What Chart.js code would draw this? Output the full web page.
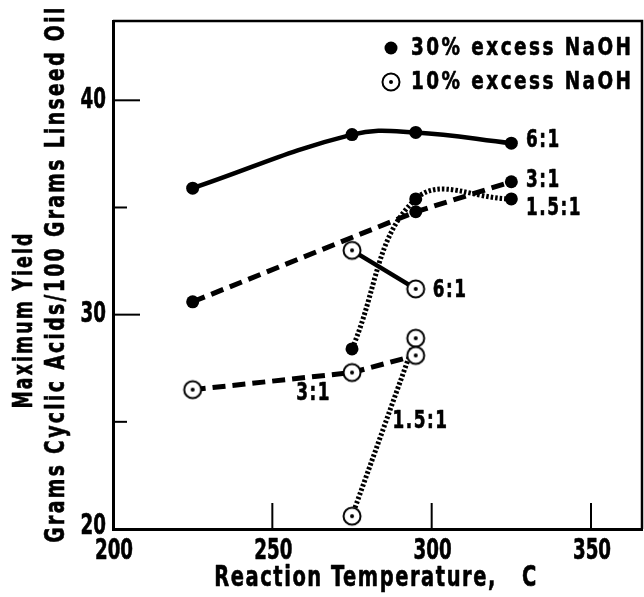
<!DOCTYPE html>
<html>
<head>
<meta charset="utf-8">
<title>Maximum yield of cyclic acids vs reaction temperature</title>
<style>
  body { margin: 0; background: #fff; }
  #wrap { width: 644px; height: 597px; position: relative; }
</style>
</head>
<body>
<script src="https://cdn.jsdelivr.net/npm/chart.js"></script>
<div id="wrap"><canvas id="myChart"></canvas></div>
<script>
// reaction temperatures, C
const temps = [225, 275, 295, 325];

// 30% excess NaOH (filled dots), grams cyclic acids / 100 g linseed oil
const naoh30_6to1 = [35.9, 38.4, 38.5, 38.0];
const naoh30_3to1 = [30.6, null, 34.8, 36.2];
const naoh30_15to1 = [null, 28.4, 35.4, 35.4];

// 10% excess NaOH (dotted circles)
const naoh10_6to1 = [null, 33.0, 31.2, null];
const naoh10_3to1 = [26.5, 27.3, 28.1, null];
const naoh10_15to1 = [null, 20.6, 28.9, null];

// axis tick labels
const xTickLabels = [200, 250, 300, 350];
const yTickLabels = [20, 30, 40];

// ratio labels written next to the curves (anchored in data units)
const ratioText = ['6:1', '3:1', '1.5:1', '6:1', '3:1', '1.5:1'];
const ratioAtX = [329.6, 329.6, 329.6, 300.3, 257.5, 287.7];
const ratioAtY = [38.1, 36.25, 34.95, 31.1, 26.3, 25.0];

const legendText = ['30% excess NaOH', '10% excess NaOH'];

const FONT = '"DejaVu Sans Condensed", "DejaVu Sans", sans-serif';

function pts(vals) {
  return temps.map((t, i) => ({ x: t, y: vals[i] })).filter(p => p.y !== null);
}

// open circle with a dot in the middle
function ringDot() {
  const c = document.createElement('canvas');
  c.width = 22; c.height = 22;
  const g = c.getContext('2d');
  g.beginPath();
  g.arc(11, 11, 8.5, 0, Math.PI * 2);
  g.fillStyle = '#fff';
  g.fill();
  g.lineWidth = 2;
  g.strokeStyle = '#000';
  g.stroke();
  g.beginPath();
  g.arc(11, 11, 2, 0, Math.PI * 2);
  g.fillStyle = '#000';
  g.fill();
  return c;
}
const ring = ringDot();

const SOLID = [], DASHED = [13, 7], DOTTED = [2.5, 2];

function series(label, vals, dash, open, tension) {
  return {
    label: label,
    data: pts(vals),
    borderColor: '#000',
    borderWidth: dash === SOLID ? 4.5 : 5,
    borderDash: dash,
    borderCapStyle: 'butt',
    tension: tension,
    pointStyle: open ? ring : 'circle',
    pointRadius: open ? 9 : 6.5,
    pointBackgroundColor: '#000',
    pointBorderWidth: 0,
    fill: false
  };
}

// heavy bold text squeezed sideways, to imitate the narrow lettering of the original
function text(ctx, str, x, y, size, opts) {
  ctx.save();
  ctx.font = 'bold ' + size + 'px ' + FONT;
  ctx.letterSpacing = (opts.spacing || 0) + 'px';
  const natural = ctx.measureText(str).width - (opts.spacing || 0);
  const sx = opts.width ? opts.width / natural : (opts.sx || 1);
  ctx.translate(x, y);
  if (opts.angle) ctx.rotate(opts.angle);
  ctx.scale(sx, 1);
  ctx.textAlign = opts.align || 'left';
  ctx.textBaseline = 'middle';
  ctx.fillStyle = '#000';
  ctx.strokeStyle = '#000';
  ctx.lineWidth = 0.6;
  ctx.lineJoin = 'round';
  ctx.fillText(str, 0, 0);
  ctx.strokeText(str, 0, 0);
  ctx.restore();
}

// frame, inward ticks, tick labels, text labels, legend, axis titles
const decorations = {
  id: 'decorations',
  beforeDatasetsDraw(chart) {
    const ctx = chart.ctx, a = chart.chartArea;
    const xs = chart.scales.x, ys = chart.scales.y;
    ctx.save();
    ctx.strokeStyle = '#000';
    ctx.lineWidth = 2.5;
    ctx.beginPath();
    ctx.moveTo(a.left, a.top);
    ctx.lineTo(a.right, a.top);
    ctx.lineTo(a.right, a.bottom);
    ctx.stroke();
    ctx.lineWidth = 2;
    [250, 300, 350].forEach(v => {
      const px = xs.getPixelForValue(v);
      ctx.beginPath();
      ctx.moveTo(px, a.bottom);
      ctx.lineTo(px, a.bottom - 26);
      ctx.stroke();
    });
    [25, 30, 35, 40].forEach(v => {
      const py = ys.getPixelForValue(v);
      const len = v % 10 === 0 ? 27 : 14;
      ctx.beginPath();
      ctx.moveTo(a.left, py);
      ctx.lineTo(a.left + len, py);
      ctx.stroke();
    });
    ctx.restore();
  },
  afterDatasetsDraw(chart) {
    const ctx = chart.ctx, a = chart.chartArea;
    const xs = chart.scales.x, ys = chart.scales.y;

    // tick labels
    xTickLabels.forEach(v => text(ctx, String(v), xs.getPixelForValue(v) + 1, a.bottom + 22, 29, { sx: 0.7, align: 'center' }));
    yTickLabels.forEach(v => text(ctx, String(v), a.left - 7, ys.getPixelForValue(v) - (v === 20 ? 3 : 0), 29, { sx: 0.7, align: 'right' }));

    // ratio labels
    ratioText.forEach((t, i) => {
      text(ctx, t, xs.getPixelForValue(ratioAtX[i]), ys.getPixelForValue(ratioAtY[i]), 24, { sx: 0.78, spacing: 2 });
    });

    // legend
    const lx = 391, ly = [48, 82];
    ctx.save();
    ctx.fillStyle = '#000';
    ctx.beginPath();
    ctx.arc(lx, ly[0], 6.5, 0, Math.PI * 2);
    ctx.fill();
    ctx.drawImage(ring, lx - 11, ly[1] - 11);
    ctx.restore();
    legendText.forEach((t, i) => text(ctx, t, 411, ly[i], 25, { width: 220, spacing: 3 }));

    // axis titles
    text(ctx, 'Reaction Temperature,   C', 376, 579, 28, { width: 322, spacing: 2, align: 'center' });
    text(ctx, 'Maximum Yield', 25, 320, 27, { width: 175, spacing: 3, align: 'center', angle: -Math.PI / 2 });
    text(ctx, 'Grams Cyclic Acids/100 Grams Linseed Oil', 57, 274, 27, { width: 535, spacing: 3, align: 'center', angle: -Math.PI / 2 });
  }
};

const ctx = document.getElementById('myChart').getContext('2d');
const myChart = new Chart(ctx, {
  type: 'line',
  data: {
    datasets: [
      series('30% 6:1', naoh30_6to1, SOLID, false, 0.4),
      series('30% 3:1', naoh30_3to1, DASHED, false, 0),
      series('30% 1.5:1', naoh30_15to1, DOTTED, false, 0.4),
      series('10% 6:1', naoh10_6to1, SOLID, true, 0),
      series('10% 3:1', naoh10_3to1, DASHED, true, 0),
      series('10% 1.5:1', naoh10_15to1, DOTTED, true, 0)
    ]
  },
  options: {
    responsive: true,
    maintainAspectRatio: false,
    animation: false,
    events: [],
    layout: { autoPadding: false, padding: { top: 21, right: 2, left: 0, bottom: 0 } },
    plugins: { legend: { display: false }, tooltip: { enabled: false } },
    scales: {
      x: {
        type: 'linear',
        min: 200,
        max: 366,
        afterFit: s => { s.height = 68; },
        grid: { display: false, drawTicks: false },
        border: { display: true, color: '#000', width: 3 },
        ticks: { display: false, stepSize: 50 }
      },
      y: {
        type: 'linear',
        min: 20,
        max: 43.7,
        afterFit: s => { s.width = 113; },
        grid: { display: false, drawTicks: false },
        border: { display: true, color: '#000', width: 3 },
        ticks: { display: false, stepSize: 5 }
      }
    }
  },
  plugins: [decorations]
});
</script>
</body>
</html>
